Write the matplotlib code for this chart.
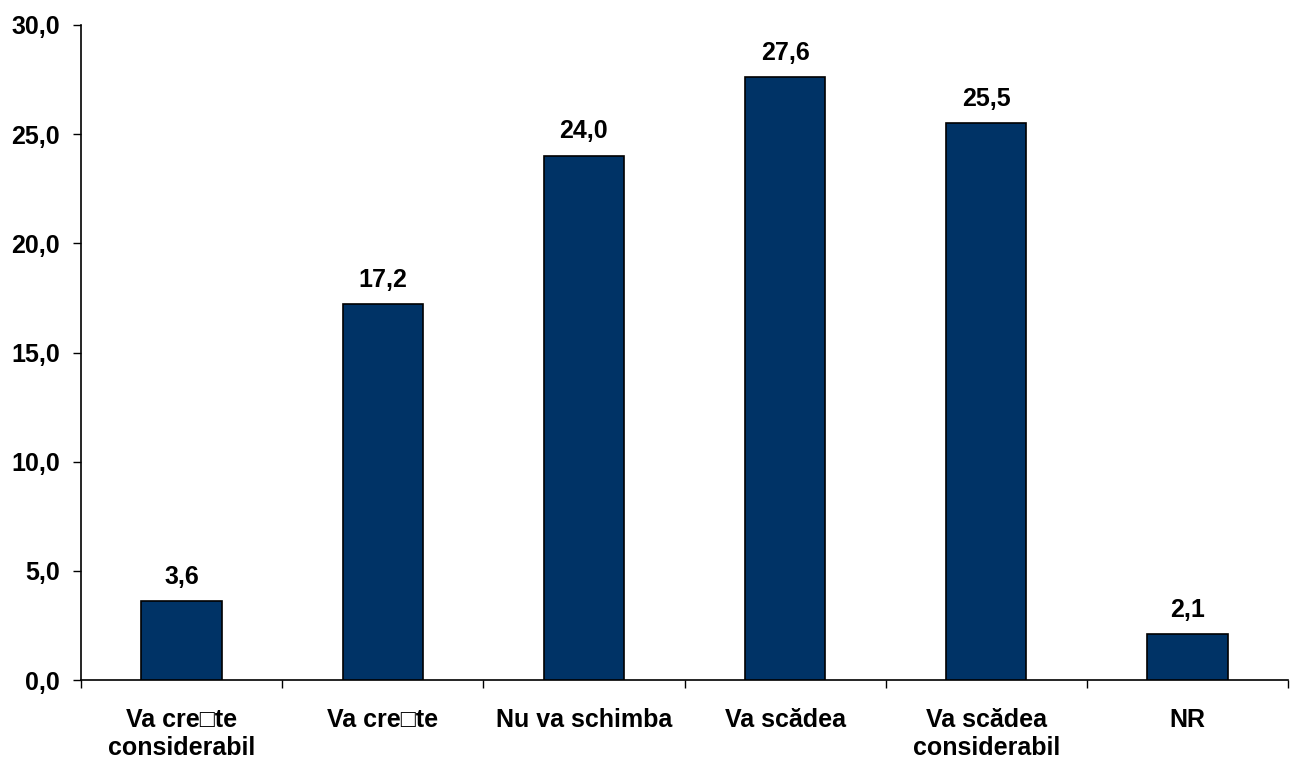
import matplotlib
matplotlib.use("Agg")
import matplotlib.pyplot as plt
from matplotlib.ticker import MultipleLocator, FuncFormatter, FixedLocator

categories = ["Va cre\u25a1te\nconsiderabil", "Va cre\u25a1te", "Nu va schimba",
              "Va scădea", "Va scădea\nconsiderabil", "NR"]
values = [3.6, 17.2, 24.0, 27.6, 25.5, 2.1]

plt.rcParams['font.family'] = ['Liberation Sans', 'DejaVu Sans']
plt.rcParams['font.weight'] = 'bold'

FS = 18
fig = plt.figure(figsize=(12.94, 7.6), dpi=100)
ax = fig.add_axes([81/1294, 1-680/760, (1288-81)/1294, (680-25)/760])

x = list(range(len(categories)))
ax.bar(x, values, width=0.4, color="#003366", edgecolor="black", linewidth=1.2, zorder=3)

for xi, v in zip(x, values):
    ax.annotate(f"{v:.1f}".replace(".", ","), (xi, v), xytext=(0, 9),
                textcoords="offset points", ha="center", va="bottom",
                fontsize=FS, fontweight="bold")

ax.set_xlim(-0.5, len(categories) - 0.5)
ax.set_ylim(0, 30)
ax.yaxis.set_major_locator(MultipleLocator(5))
ax.yaxis.set_major_formatter(FuncFormatter(lambda v, p: f"{v:.1f}".replace(".", ",")))
ax.set_xticks(x)
ax.set_xticklabels(categories, fontsize=FS, fontweight="bold", linespacing=1.2)
ax.xaxis.set_minor_locator(FixedLocator([i - 0.5 for i in range(len(categories) + 1)]))
ax.tick_params(axis="x", which="major", length=0, pad=20)
ax.tick_params(axis="x", which="minor", length=6, width=1, direction="out")
ax.tick_params(axis="y", which="major", length=6, width=1, direction="out", labelsize=FS, pad=9)
for lab in ax.get_yticklabels():
    lab.set_fontweight("bold")

ax.spines["top"].set_visible(False)
ax.spines["right"].set_visible(False)
ax.spines["left"].set_linewidth(1.2)
ax.spines["bottom"].set_linewidth(1.2)

fig.savefig("out.png", dpi=100)
